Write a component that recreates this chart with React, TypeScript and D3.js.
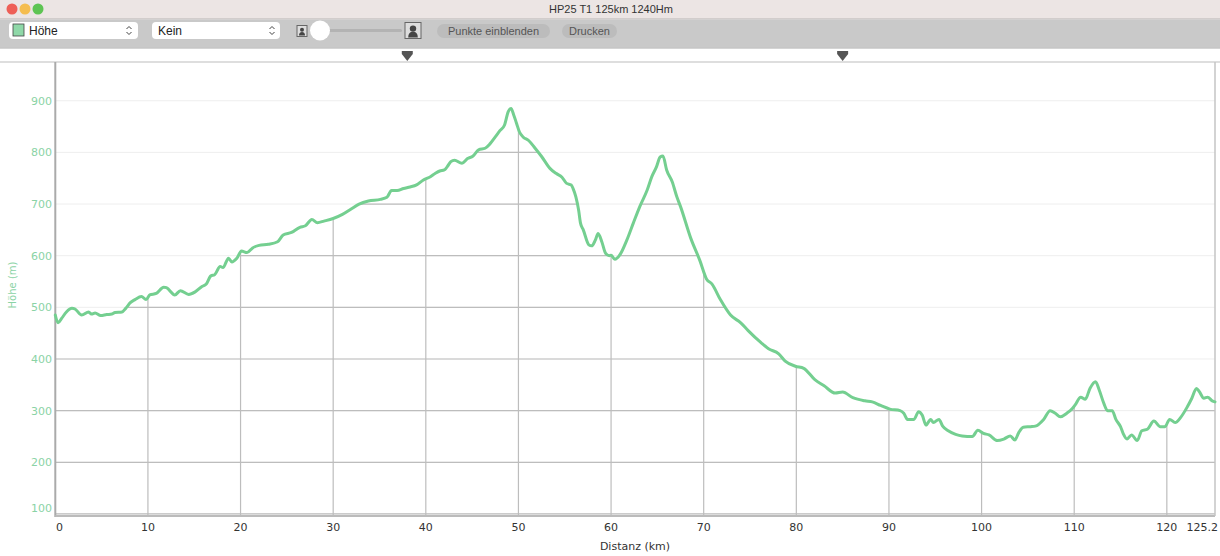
import React from "react";
import * as d3 from "d3";

const distKm = [0, 0.3, 0.7, 1.2, 1.8, 2.1, 2.85, 3.6, 3.9, 4.3, 4.9, 5.55, 6.1, 6.45, 7.2, 7.6, 8.1, 8.6, 9.3, 9.8, 10.2, 10.9, 11.7, 12.0, 12.9, 13.5, 14.4, 15.1, 15.8, 16.3, 16.8, 17.2, 17.8, 18.1, 18.7, 19.05, 19.6, 20.1, 20.7, 21.3, 22, 23, 24, 24.6, 25.5, 26.4, 27, 27.7, 28.3, 29, 30, 31, 31.9, 32.8, 33.8, 35.1, 35.8, 36.3, 36.9, 37.6, 38.3, 39.0, 39.7, 40.5, 41.0, 41.5, 42.0, 42.3, 42.7, 43.1, 43.9, 44.5, 45.1, 45.7, 46.4, 46.9, 47.5, 48.0, 48.5, 48.9, 49.2, 49.5, 49.8, 50.1, 50.5, 51.1, 51.8, 52.5, 53.4, 54.1, 54.7, 55.2, 55.7, 55.9, 56.2, 56.5, 56.7, 57.0, 57.6, 57.9, 58.3, 58.6, 59.0, 59.4, 59.8, 60.0, 60.4, 61.0, 61.7, 62.4, 63.1, 63.9, 64.4, 64.9, 65.3, 65.6, 66.0, 66.6, 67.1, 67.5, 68.6, 69.6, 70.3, 70.9, 71.8, 72.9, 74, 74.8, 76.1, 77, 78.1, 78.8, 79.9, 80.8, 82, 83, 84.2, 85, 86.1, 87.4, 88.2, 89.1, 90.1, 91.2, 91.6, 92.0, 92.7, 93.2, 93.6, 94.0, 94.5, 94.8, 95.4, 95.8, 96.4, 97.2, 97.9, 99.0, 99.6, 100.2, 100.8, 101.7, 102.4, 103.1, 103.6, 104.0, 104.5, 105.3, 105.8, 106.7, 107.4, 107.96, 108.5, 109.2, 109.8, 110.1, 110.7, 111.2, 111.7, 112.3, 112.7, 113.2, 113.6, 114.1, 114.5, 115.0, 115.3, 115.7, 116.2, 116.8, 117.3, 117.9, 118.6, 119.3, 119.8, 120.3, 120.9, 121.5, 122.2, 122.7, 123.2, 123.5, 124.0, 124.4, 124.9, 125.2];
const elevM = [485, 470, 479, 491, 498, 497, 485, 491, 487, 489, 484, 486, 487, 490, 491, 498, 509, 515, 521, 515, 524, 527, 539, 538, 524, 532, 525, 530, 540, 545, 561, 563, 579, 577, 595, 588, 595, 609, 606, 615, 620, 622, 627, 640, 645, 655, 658, 670, 664, 667, 672, 680, 690, 700, 706, 709, 713, 726, 726, 730, 733, 737, 746, 753, 759, 764, 766, 772, 782, 785, 779, 788, 793, 805, 808, 816, 830, 842, 853, 879, 885, 872, 856, 840, 830, 823, 808, 792, 769, 759, 752, 740, 737, 730, 714, 688, 663, 650, 621, 619, 630, 643, 627, 605, 600, 601, 593, 603, 630, 663, 695, 727, 753, 772, 791, 793, 766, 743, 714, 695, 634, 590, 555, 545, 515, 485, 470, 455, 433, 420, 410, 396, 386, 382, 360, 348, 334, 336, 325, 319, 317, 310, 303, 300, 295, 283, 283, 298, 291, 272, 283, 277, 283, 270, 261, 254, 251, 250, 262, 256, 253, 242, 245, 251, 243, 257, 268, 269, 270, 283, 300, 295, 288, 295, 304, 311, 326, 322, 343, 356, 340, 314, 300, 300, 283, 269, 255, 245, 253, 242, 261, 264, 280, 269, 269, 283, 277, 287, 307, 324, 343, 337, 324, 326, 319, 317];

const xTicks = [10, 20, 30, 40, 50, 60, 70, 80, 90, 100, 110, 120];
const xTickLabels = ["0", "10", "20", "30", "40", "50", "60", "70", "80", "90", "100", "110", "120", "125.2"];
const yTicks = [100, 200, 300, 400, 500, 600, 700, 800, 900];
const markersKm = [38, 85];
const title = "HP25 T1 125km 1240Hm";

const FONT = "'DejaVu Sans', Verdana, sans-serif";
const GREEN = "#74cf90";
const LABEL_GREEN = "#8ad3a5";

export default function App() {
  const W = 1220, H = 556;
  const left = 55.3, right = 1215, top = 62, bottom = 516;
  const x = d3.scaleLinear().domain([0, 125.2]).range([left, right]);
  const y = d3.scaleLinear().domain([96, 975]).range([bottom, top]);
  const pts: [number, number][] = distKm.map((d, i) => [d, elevM[i]]);
  const line = d3.line<[number, number]>().x(d => x(d[0])).y(d => y(d[1])).curve(d3.curveMonotoneX);
  const area = d3.area<[number, number]>().x(d => x(d[0])).y0(bottom).y1(d => y(d[1])).curve(d3.curveMonotoneX);

  const chevron = (cx: number, cy: number) => (
    <g stroke="#444" strokeWidth={1} fill="none">
      <path d={`M${cx - 2.5},${cy - 1.5} L${cx},${cy - 4} L${cx + 2.5},${cy - 1.5}`} />
      <path d={`M${cx - 2.5},${cy + 1.5} L${cx},${cy + 4} L${cx + 2.5},${cy + 1.5}`} />
    </g>
  );
  const personIcon = (x0: number, y0: number, w: number, h: number) => (
    <g>
      <rect x={x0} y={y0} width={w} height={h} fill="#ddd" stroke="#666" strokeWidth={1} />
      <circle cx={x0 + w / 2} cy={y0 + h * 0.38} r={w * 0.2} fill="#444" />
      <path d={`M${x0 + w * 0.2},${y0 + h - 1} Q${x0 + w * 0.2},${y0 + h * 0.58} ${x0 + w / 2},${y0 + h * 0.58} Q${x0 + w * 0.8},${y0 + h * 0.58} ${x0 + w * 0.8},${y0 + h - 1} Z`} fill="#444" />
    </g>
  );

  return (
    <svg width={W} height={H} style={{ position: "absolute", left: 0, top: 0, display: "block" }} fontFamily={FONT}>
      <defs>
        <clipPath id="under">
          <path d={area(pts) || ""} />
        </clipPath>
      </defs>
      <rect x={0} y={0} width={W} height={H} fill="#fff" />
      {/* title bar */}
      <rect x={0} y={0} width={W} height={19} fill="#ece5e4" />
      <line x1={0} x2={W} y1={19} y2={19} stroke="#b9b4b4" />
      <circle cx={12} cy={9} r={5.5} fill="#ee5f57" />
      <circle cx={25} cy={9} r={5.5} fill="#f5bd4f" />
      <circle cx={38} cy={9} r={5.5} fill="#5ec453" />
      <text x={611} y={13} textAnchor="middle" fontSize={11} fill="#333" fontFamily="'Liberation Sans', Arial, sans-serif">{title}</text>
      {/* toolbar */}
      <rect x={0} y={19.5} width={W} height={28} fill="#c9c9c9" />
      <line x1={0} x2={W} y1={48} y2={48} stroke="#a9a9a9" />
      <rect x={9} y={22} width={129} height={17} rx={4} fill="#fff" />
      <rect x={13} y={24} width={11} height={12} fill="#8fd8a8" stroke="#444" strokeWidth={0.8} />
      <text x={29} y={35} fontSize={12} fill="#222" fontFamily="'Liberation Sans', Arial, sans-serif">Höhe</text>
      {chevron(129, 30.5)}
      <rect x={152} y={22} width={128} height={17} rx={4} fill="#fff" />
      <text x={158} y={35} fontSize={12} fill="#222" fontFamily="'Liberation Sans', Arial, sans-serif">Kein</text>
      {chevron(272, 30.5)}
      {personIcon(297, 25.5, 10, 11)}
      <rect x={328} y={29} width={74} height={3} rx={1.5} fill="#b3b3b3" />
      <circle cx={320} cy={30.5} r={10} fill="#fff" />
      {personIcon(405, 22.5, 16, 16)}
      <rect x={437} y={24} width={113} height={14} rx={7} fill="#bcbcbc" />
      <text x={493.5} y={35} textAnchor="middle" fontSize={11} fill="#555" fontFamily="'Liberation Sans', Arial, sans-serif">Punkte einblenden</text>
      <rect x={562} y={24} width={55} height={14} rx={7} fill="#bcbcbc" />
      <text x={589.5} y={35} textAnchor="middle" fontSize={11} fill="#555" fontFamily="'Liberation Sans', Arial, sans-serif">Drucken</text>
      {/* markers */}
      {markersKm.map(m => {
        const cx = x(m);
        return <path key={m} d={`M${cx - 5.5},${51} L${cx + 5.5},${51} L${cx + 5.5},${54} L${cx},${61} L${cx - 5.5},${54} Z`} fill="#555" />;
      })}
      <line x1={0} x2={W} y1={62} y2={62} stroke="#bdbdbd" strokeWidth={1.2} />
      {/* light grid */}
      {yTicks.map(t => (
        <line key={"lg" + t} x1={left} x2={right} y1={y(t)} y2={y(t)} stroke="#eeeeee" strokeWidth={1} />
      ))}
      {/* dark grid under curve */}
      <g clipPath="url(#under)">
        {yTicks.map(t => (
          <line key={"dg" + t} x1={left} x2={right} y1={y(t)} y2={y(t)} stroke="#bdbdbd" strokeWidth={1.2} />
        ))}
        {xTicks.map(t => (
          <line key={"vg" + t} x1={x(t)} x2={x(t)} y1={top} y2={bottom} stroke="#bdbdbd" strokeWidth={1.2} />
        ))}
      </g>
      {/* axes */}
      <line x1={left} x2={left} y1={top} y2={bottom + 1} stroke="#aaaaaa" strokeWidth={2} />
      <line x1={left} x2={right} y1={bottom} y2={bottom} stroke="#bbbbbb" strokeWidth={2} />
      <line x1={right} x2={right} y1={top} y2={bottom} stroke="#c4c4c4" strokeWidth={1.5} />
      {/* line */}
      <path d={line(pts) || ""} fill="none" stroke={GREEN} strokeWidth={3} strokeLinejoin="round" strokeLinecap="round" />
      {/* y labels */}
      {yTicks.map(t => (
        <text key={"yl" + t} x={52} y={t === 100 ? 512 : y(t) + 4} textAnchor="end" fontSize={11} fill={LABEL_GREEN}>{t}</text>
      ))}
      <text transform="translate(16,285) rotate(-90)" textAnchor="middle" fontSize={10} fill={LABEL_GREEN}>Höhe (m)</text>
      {/* x labels */}
      {xTickLabels.map((l, i) => {
        const v = parseFloat(l);
        const anchor = i === 0 ? "start" : i === xTickLabels.length - 1 ? "end" : "middle";
        const px = i === 0 ? 56 : i === xTickLabels.length - 1 ? 1218 : x(v);
        return <text key={"xl" + l} x={px} y={531} textAnchor={anchor} fontSize={11} fill="#333">{l}</text>;
      })}
      <text x={635} y={550} textAnchor="middle" fontSize={11} fill="#333">Distanz (km)</text>
    </svg>
  );
}
